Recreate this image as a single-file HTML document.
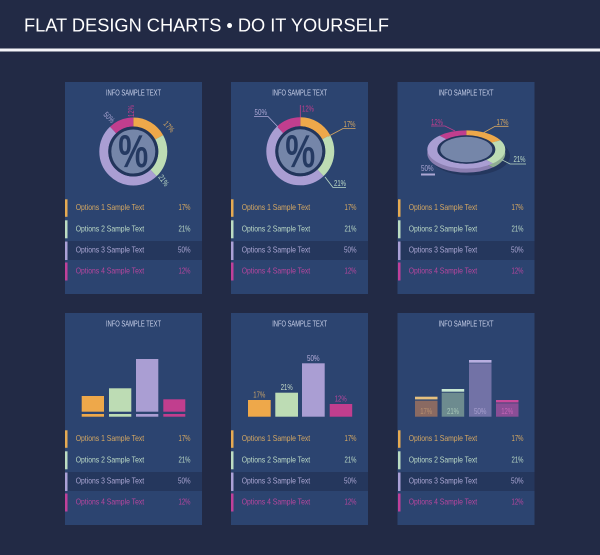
<!DOCTYPE html>
<html><head><meta charset="utf-8"><style>
html,body{margin:0;padding:0;background:#222a45;}
svg{display:block;font-family:"Liberation Sans",sans-serif;}
</style></head><body>
<svg width="600" height="555" viewBox="0 0 600 555" xmlns="http://www.w3.org/2000/svg">
<rect x="0" y="0" width="600" height="555" fill="#222a45"/>
<text x="24" y="31.5" font-size="18.2" fill="#ffffff" textLength="365" lengthAdjust="spacingAndGlyphs">FLAT DESIGN CHARTS • DO IT YOURSELF</text>
<rect x="0" y="48.5" width="600" height="3" fill="#f4f4f8"/>

<!-- panels -->
<g fill="#2c4470">
<rect x="65" y="82" width="137" height="212"/>
<rect x="231" y="82" width="137" height="212"/>
<rect x="397.5" y="82" width="137" height="212"/>
<rect x="65" y="313" width="137" height="212"/>
<rect x="231" y="313" width="137" height="212"/>
<rect x="397.5" y="313" width="137" height="212"/>
</g>
<!-- highlight rows -->
<g fill="#25375d">
<rect x="65" y="241" width="137" height="19"/>
<rect x="231" y="241" width="137" height="19"/>
<rect x="397.5" y="241" width="137" height="19"/>
<rect x="65" y="472" width="137" height="19"/>
<rect x="231" y="472" width="137" height="19"/>
<rect x="397.5" y="472" width="137" height="19"/>
</g>

<!-- titles -->
<g font-size="8" fill="#c9d1ea" text-anchor="middle">
<text x="133.5" y="95.5" textLength="55" lengthAdjust="spacingAndGlyphs">INFO SAMPLE TEXT</text>
<text x="299.7" y="95.5" textLength="55" lengthAdjust="spacingAndGlyphs">INFO SAMPLE TEXT</text>
<text x="466" y="95.5" textLength="55" lengthAdjust="spacingAndGlyphs">INFO SAMPLE TEXT</text>
<text x="133.5" y="326.5" textLength="55" lengthAdjust="spacingAndGlyphs">INFO SAMPLE TEXT</text>
<text x="299.7" y="326.5" textLength="55" lengthAdjust="spacingAndGlyphs">INFO SAMPLE TEXT</text>
<text x="466" y="326.5" textLength="55" lengthAdjust="spacingAndGlyphs">INFO SAMPLE TEXT</text>
</g>

<!-- legends -->
<g id="leg1">
<rect x="65" y="199.3" width="2.5" height="17.5" fill="#e6aa52"/>
<rect x="65" y="220.3" width="2.5" height="18" fill="#bcdcc2"/>
<rect x="65" y="241.5" width="2.5" height="18.5" fill="#aba0d6"/>
<rect x="65" y="262.5" width="2.5" height="18" fill="#c0409a"/>
<g font-size="8.5">
<text x="75.7" y="210.2" fill="#d6a862" textLength="68.5" lengthAdjust="spacingAndGlyphs">Options 1 Sample Text</text>
<text x="75.7" y="231.4" fill="#bcdac6" textLength="68.5" lengthAdjust="spacingAndGlyphs">Options 2 Sample Text</text>
<text x="75.7" y="252.7" fill="#aca7d4" textLength="68.5" lengthAdjust="spacingAndGlyphs">Options 3 Sample Text</text>
<text x="75.7" y="273.6" fill="#b8469e" textLength="68.5" lengthAdjust="spacingAndGlyphs">Options 4 Sample Text</text>
</g>
<g font-size="8.5" text-anchor="end">
<text x="190.5" y="210.2" fill="#d6a862" textLength="12" lengthAdjust="spacingAndGlyphs">17%</text>
<text x="190.5" y="231.4" fill="#bcdac6" textLength="12" lengthAdjust="spacingAndGlyphs">21%</text>
<text x="190.5" y="252.7" fill="#aca7d4" textLength="12.5" lengthAdjust="spacingAndGlyphs">50%</text>
<text x="190.5" y="273.6" fill="#b8469e" textLength="12" lengthAdjust="spacingAndGlyphs">12%</text>
</g>
</g>
<use href="#leg1" transform="translate(166,0)"/>
<use href="#leg1" transform="translate(333,0)"/>
<use href="#leg1" transform="translate(0,231)"/>
<use href="#leg1" transform="translate(166,231)"/>
<use href="#leg1" transform="translate(333,231)"/>

<!-- donut 1 -->
<g id="donut1">
<g fill="none" stroke-width="9" transform="rotate(-90 133.3 151.5)">
<circle cx="133.3" cy="151.5" r="29.5" pathLength="100" stroke="#eea84a" stroke-dasharray="17 83" stroke-dashoffset="0"/>
<circle cx="133.3" cy="151.5" r="29.5" pathLength="100" stroke="#bddcb4" stroke-dasharray="21 79" stroke-dashoffset="-17"/>
<circle cx="133.3" cy="151.5" r="29.5" pathLength="100" stroke="#aa9ed3" stroke-dasharray="50 50" stroke-dashoffset="-38"/>
<circle cx="133.3" cy="151.5" r="29.5" pathLength="100" stroke="#c13e8e" stroke-dasharray="12 88" stroke-dashoffset="-88"/>
</g>
<circle cx="133.3" cy="151.5" r="25" fill="#22355b"/>
<circle cx="133.3" cy="151.5" r="22" fill="#7586a9"/>
<text x="133.3" y="167" font-size="46" font-weight="bold" fill="#253a62" text-anchor="middle" textLength="30" lengthAdjust="spacingAndGlyphs">%</text>
</g>
<use href="#donut1" transform="translate(167,-0.2)"/>

<!-- donut1 labels (rotated) -->
<g font-size="8">
<text transform="translate(134,117) rotate(-90)" fill="#c13e8e" textLength="12" lengthAdjust="spacingAndGlyphs">12%</text>
<text transform="translate(103,115) rotate(45)" fill="#aca7d4" textLength="12" lengthAdjust="spacingAndGlyphs">50%</text>
<text transform="translate(163,124) rotate(48)" fill="#d6a862" textLength="12" lengthAdjust="spacingAndGlyphs">17%</text>
<text transform="translate(158,177) rotate(55)" fill="#bcdac6" textLength="12" lengthAdjust="spacingAndGlyphs">21%</text>
</g>

<!-- donut2 labels -->
<g font-size="8.5" fill="none" stroke-width="0.8">
<path d="M300.3 105 V117.5" stroke="#c13e8e"/>
<path d="M355.5 128.5 H343 L328 136.5" stroke="#d6a862"/>
<path d="M346 187.5 H333 L325 177" stroke="#bcdac6"/>
<path d="M254 116.5 H268 L278 127" stroke="#aca7d4"/>
</g>
<g font-size="8.5">
<text x="302" y="111.5" fill="#c13e8e" textLength="12" lengthAdjust="spacingAndGlyphs">12%</text>
<text x="343.5" y="127" fill="#d6a862" textLength="12" lengthAdjust="spacingAndGlyphs">17%</text>
<text x="334" y="186" fill="#bcdac6" textLength="12" lengthAdjust="spacingAndGlyphs">21%</text>
<text x="254.5" y="115" fill="#aca7d4" textLength="12.5" lengthAdjust="spacingAndGlyphs">50%</text>
</g>

<!-- 3D ellipse chart -->
<ellipse cx="470" cy="156" rx="40" ry="19.5" fill="#24375e"/>
<g transform="translate(466.3,153.5) scale(1,0.49)">
<g fill="none" stroke-width="10" transform="rotate(-90)">
<circle r="34" pathLength="100" stroke="#b98440" stroke-dasharray="17 83" stroke-dashoffset="0"/>
<circle r="34" pathLength="100" stroke="#90ae92" stroke-dasharray="21 79" stroke-dashoffset="-17"/>
<circle r="34" pathLength="100" stroke="#8a7eb0" stroke-dasharray="50 50" stroke-dashoffset="-38"/>
<circle r="34" pathLength="100" stroke="#963070" stroke-dasharray="12 88" stroke-dashoffset="-88"/>
</g>
</g>
<g transform="translate(466.3,149.5) scale(1,0.49)">
<g fill="none" stroke-width="10" transform="rotate(-90)">
<circle r="34" pathLength="100" stroke="#eea84a" stroke-dasharray="17 83" stroke-dashoffset="0"/>
<circle r="34" pathLength="100" stroke="#bddcb4" stroke-dasharray="21 79" stroke-dashoffset="-17"/>
<circle r="34" pathLength="100" stroke="#aa9ed3" stroke-dasharray="50 50" stroke-dashoffset="-38"/>
<circle r="34" pathLength="100" stroke="#c13e8e" stroke-dasharray="12 88" stroke-dashoffset="-88"/>
</g>
<circle r="29" fill="#22355b"/>
<circle r="26" fill="#7586a9"/>
</g>
<g fill="none" stroke-width="0.8">
<path d="M431 126 H445 L455 131" stroke="#c13e8e"/>
<path d="M508.5 126.3 H495 L483 133" stroke="#d6a862"/>
<path d="M526 164 H510 L501.7 159.7" stroke="#bcdac6"/>
</g>
<rect x="421" y="173.5" width="14" height="2" fill="#aca7d4"/>
<g font-size="8.5">
<text x="431" y="124.8" fill="#c13e8e" textLength="12" lengthAdjust="spacingAndGlyphs">12%</text>
<text x="496.5" y="124.8" fill="#d6a862" textLength="12" lengthAdjust="spacingAndGlyphs">17%</text>
<text x="513.5" y="162" fill="#bcdac6" textLength="12" lengthAdjust="spacingAndGlyphs">21%</text>
<text x="421" y="171" fill="#aca7d4" textLength="12.5" lengthAdjust="spacingAndGlyphs">50%</text>
</g>

<!-- bar chart 1 -->
<rect x="81.7" y="396" width="22.3" height="15.7" fill="#eea84a"/>
<rect x="109" y="388.3" width="22.3" height="23.4" fill="#bddcb4"/>
<rect x="136" y="359" width="22.3" height="52.7" fill="#aa9ed3"/>
<rect x="163.3" y="399.3" width="22" height="12.4" fill="#c13e8e"/>
<rect x="81.7" y="414" width="22.3" height="2.7" fill="#eea84a"/>
<rect x="109" y="414" width="22.3" height="2.7" fill="#bddcb4"/>
<rect x="136" y="414" width="22.3" height="2.7" fill="#aa9ed3"/>
<rect x="163.3" y="414" width="22" height="2.7" fill="#c13e8e"/>

<!-- bar chart 2 -->
<rect x="248" y="400" width="22.7" height="16.7" fill="#eea84a"/>
<rect x="275.3" y="392.7" width="22.7" height="24" fill="#bddcb4"/>
<rect x="302" y="363.3" width="22.7" height="53.4" fill="#aa9ed3"/>
<rect x="329.7" y="404" width="22.5" height="12.7" fill="#c13e8e"/>
<g font-size="8.5" text-anchor="middle">
<text x="259.3" y="397.3" fill="#c9a368" textLength="12" lengthAdjust="spacingAndGlyphs">17%</text>
<text x="286.7" y="390" fill="#c6dcc9" textLength="12" lengthAdjust="spacingAndGlyphs">21%</text>
<text x="313.3" y="361" fill="#b8b0dc" textLength="12.5" lengthAdjust="spacingAndGlyphs">50%</text>
<text x="340.7" y="401.5" fill="#b8479c" textLength="12" lengthAdjust="spacingAndGlyphs">12%</text>
</g>

<!-- bar chart 3 -->
<rect x="415" y="396.7" width="22.5" height="2.7" fill="#e6c07e"/>
<rect x="441.7" y="389" width="22.5" height="2.7" fill="#c8e8d2"/>
<rect x="469" y="360" width="22.5" height="2.7" fill="#b8aee0"/>
<rect x="496" y="400" width="22.5" height="2.5" fill="#c84a9c"/>
<rect x="415" y="400.7" width="22.5" height="16" fill="#8a6a62"/>
<rect x="441.7" y="392.7" width="22.5" height="24" fill="#6d8b8f"/>
<rect x="469" y="363.3" width="22.5" height="53.4" fill="#7272a6"/>
<rect x="496" y="403.3" width="22.5" height="13.4" fill="#8a4e96"/>
<g font-size="8.5" text-anchor="middle">
<text x="426.2" y="414" fill="#b89070" textLength="12" lengthAdjust="spacingAndGlyphs">17%</text>
<text x="453" y="414" fill="#a8c8b8" textLength="12" lengthAdjust="spacingAndGlyphs">21%</text>
<text x="480.2" y="414" fill="#a8a0d0" textLength="12.5" lengthAdjust="spacingAndGlyphs">50%</text>
<text x="507.2" y="414" fill="#c766b8" textLength="12" lengthAdjust="spacingAndGlyphs">12%</text>
</g>
</svg>
</body></html>
